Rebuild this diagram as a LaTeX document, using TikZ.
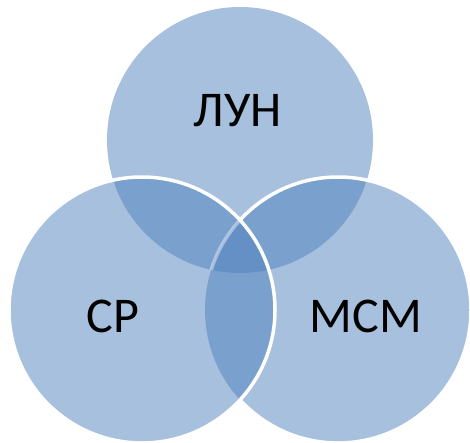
\documentclass[tikz,border=0pt]{standalone}
\usepackage{fontspec}
\setmainfont{Carlito}
\definecolor{acc}{HTML}{4F81BD}
\begin{document}
\begin{tikzpicture}[x=1pt,y=-1pt,
  circfill/.style={fill=acc,fill opacity=0.5},
  ring/.style={draw=white,line width=3.5pt},
  lbl/.style={font=\fontsize{50}{60}\selectfont,text=black,anchor=base,inner sep=0pt}]
\useasboundingbox (0,0) rectangle (470,443);
\coordinate (T) at (240,140);
\coordinate (L) at (142,310);
\coordinate (R) at (338,310);
\def\rad{133}
% fills
\fill[circfill] (T) circle (\rad);
\fill[circfill] (R) circle (\rad);
\fill[circfill] (L) circle (\rad);
% outline of right circle outside left circle
\begin{scope}[even odd rule]
  \clip (-10,-10) rectangle (480,453) (L) circle (\rad);
  \draw[ring] (R) circle (\rad);
\end{scope}
% faint band of right outline inside left and top circles
\begin{scope}
  \clip (L) circle (\rad);
  \clip (T) circle (\rad);
  \draw[draw=white,line width=3.5pt,draw opacity=0.42] (R) circle (\rad);
\end{scope}
% outline of left circle
\draw[ring] (L) circle (\rad);
% labels
\node[lbl] (lun) at (238,127) {ЛУН};
\node[lbl] (sr) at (113,332) {СР};
\node[lbl] (msm) at (366,332) {МСМ};
\end{tikzpicture}
\end{document}
